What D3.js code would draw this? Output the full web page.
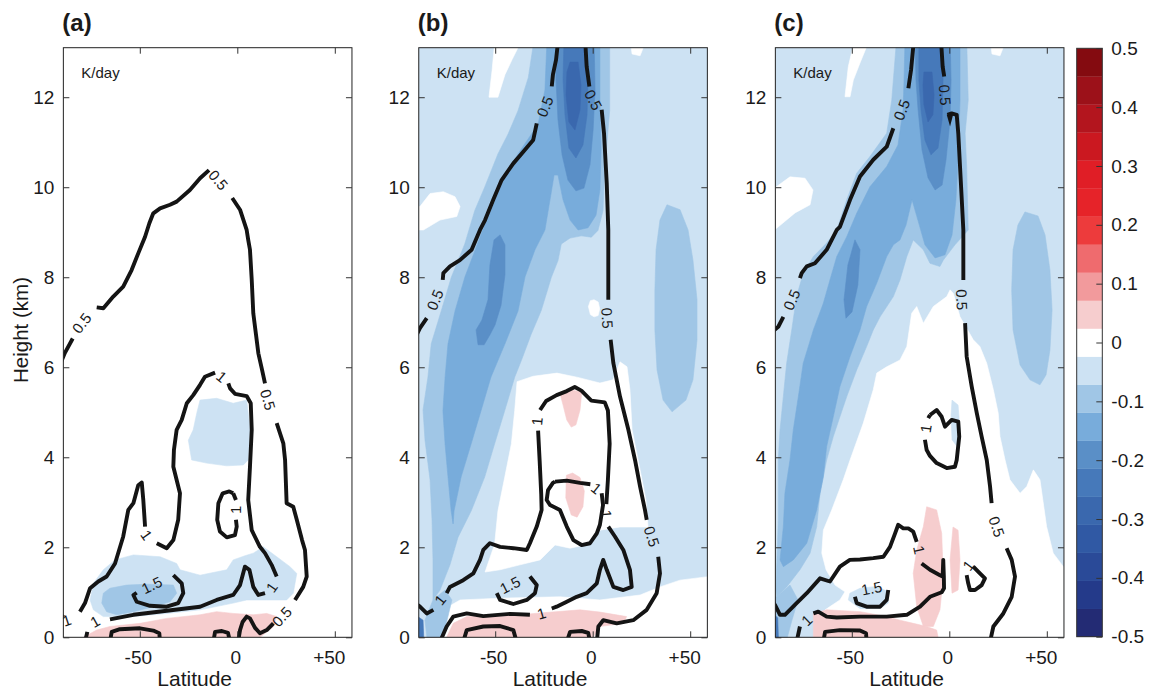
<!DOCTYPE html>
<html>
<head>
<meta charset="utf-8">
<script src="https://d3js.org/d3.v7.min.js"></script>
<style>
html,body{margin:0;padding:0;background:#fff;}
svg text{font-family:"Liberation Sans",Arial,Helvetica,sans-serif;fill:#1a1a1a;}
</style>
</head>
<body>
<svg id="chart" width="1151" height="691"></svg>
<script>
// ================= axis / legend data =================
const latDomain = [-89.2, 58.8];
const heightDomain = [0, 13.1];
const latTicks = [-50, 0, 50];
const latTickLabels = ["-50", "0", "+50"];
const heightTicks = [0, 2, 4, 6, 8, 10, 12];
const cbTicks = [0.5, 0.4, 0.3, 0.2, 0.1, 0, -0.1, -0.2, -0.3, -0.4, -0.5];
const cbTickLabels = ["0.5", "0.4", "0.3", "0.2", "0.1", "0", "-0.1", "-0.2", "-0.3", "-0.4", "-0.5"];
const panelTitles = ["(a)", "(b)", "(c)"];
const unitLabel = "K/day";
// 21 colour bands from -0.5 (index 0) to +0.5 (index 20)
const bandColors = ["#232b74","#243a8a","#2a4a98","#3059a4","#3a68ae","#4679ba","#5a8fc7","#78acdb","#a0c6e6","#cde2f3",
  "#ffffff","#f6cdce","#f29a9c","#ef6b6e","#ed3b3c","#e62329","#e01e26","#cb1820","#b3151e","#9c1119","#840b10"];

// ================= panel (a) : shaded field [lat, km] =================
const aLowBand = [[-73.8,1.2],[-68.7,1.5],[-62.7,1.72],[-53.3,1.83],[-39.6,1.79],[-31.1,1.64],[-29.4,1.5],[-19.1,1.38],[-5.4,1.5],[-2.1,1.72],[3.9,1.81],[8.2,1.87],[13.3,2.01],[20.2,1.79],[27,1.57],[30.5,1.42],[28.7,0.98],[25.3,0.83],[15.1,0.83],[4.8,0.83],[-2.1,0.76],[-19.1,0.61],[-36.2,0.53],[-53.3,0.46],[-68.7,0.46],[-73.8,0.61],[-75.5,0.83]];
const aPatch = [[-19.1,5.27],[-10.6,5.31],[-2.1,5.2],[4.8,5.27],[6.6,4.61],[5.6,3.94],[3.1,3.83],[-5.4,3.81],[-15.7,3.87],[-23.4,3.94],[-25.1,4.38],[-22.6,4.61],[-20.8,4.98]];
const aDark = [[-68.7,0.98],[-65.3,1.09],[-56.7,1.16],[-46.5,1.18],[-32.8,1.16],[-31.1,0.98],[-34.5,0.79],[-43.1,0.68],[-53.3,0.57],[-61.8,0.5],[-67,0.57],[-69.5,0.76]];
const aPink = [[-79,-0.2],[-79,0],[-72.1,0.16],[-65.3,0.24],[-49.9,0.31],[-36.2,0.42],[-19.1,0.5],[-10.6,0.57],[-2.1,0.53],[8.2,0.5],[15.1,0.53],[20.2,0.46],[18.5,0.24],[15.1,0.12],[11.6,0],[11.6,-0.2]];
// contour lines (third element = inline label)
const aLine05 = [[0.4,-0.1],[1.4,0.16],[2.7,0.34],[4.8,0.46],[6.5,0.42],[9.1,0.21],[11.6,0.09],[15.1,0.16],[18.5,0.31],[22.8,0.46,"0.5"],[29.6,0.83],[33.8,1.12],[35.6,1.35],[34.7,1.94],[33.2,2.16],[30.5,2.61],[28.7,2.9],[25.3,2.98],[24.5,3.94],[23.6,4.31],[20.2,4.76],[15.7,5.28,"0.5"],[14.2,5.64],[12.7,5.94],[10.8,6.31],[9.6,6.72],[8.2,7.2],[7.4,7.94],[6.5,8.61],[5.6,8.83],[4.8,9.05],[1.4,9.5],[-2.6,9.76],[-9.7,10.16,"0.5"],[-14.5,10.38],[-19.1,10.2],[-24.3,9.94],[-31.1,9.68],[-34.5,9.61],[-39.6,9.53],[-43.1,9.42],[-45.1,9.2],[-47.3,8.9],[-50.8,8.53],[-54.2,8.16],[-58.5,7.79],[-63.6,7.57],[-68.7,7.31],[-72.1,7.33],[-79.8,6.98,"0.5"],[-84.4,6.64],[-88.4,6.32],[-90.5,6.1]];
const aLine1 = [[-78.1,-0.1],[-76.9,0.12],[-73,0.35,"1"],[-65.3,0.4],[-53.3,0.5],[-36.2,0.59],[-19.1,0.68],[-10.6,0.83],[-2.1,0.94],[1.4,1.16],[3.9,1.57],[6.2,1.5],[8.2,1.12],[10.8,0.94],[14.2,0.98],[17.6,1.11,"1"],[20.2,1.35],[17.6,1.61],[14.2,1.87],[11.6,2.01],[7.4,2.38],[5.6,3.05],[6.5,3.79],[7.4,4.61],[6.9,5.2],[4.8,5.36],[-1.2,5.41],[-3.7,5.53],[-4.6,5.64],[-8,5.79,"1"],[-11.4,5.88],[-16.6,5.79],[-19.1,5.61],[-22.6,5.38],[-25.9,5.2],[-28.5,4.83],[-31.1,4.61],[-32.5,4.16],[-32.8,3.79],[-29.4,3.2],[-30.3,2.61],[-32.8,2.16],[-36.2,1.98],[-41.3,2.09],[-46.5,2.27,"1"],[-47.3,2.46],[-48.2,3.05],[-49,3.44],[-50.8,3.38],[-53.3,2.98],[-55.9,2.83],[-58.5,2.24],[-62.7,1.64],[-67,1.35],[-71.3,1.24],[-75.5,1.09],[-78.1,0.76],[-80.7,0.57],[-87.5,0.38,"1"],[-89,0.45],[-91,0.5]];
const aLine15 = [[-51.6,0.99],[-53.3,0.94],[-51.6,0.79],[-44.8,0.7],[-36.2,0.68],[-30.3,0.76],[-27.7,0.98],[-28.5,1.2],[-32.8,1.38],[-43.9,1.16,"1.5"],[-51.6,0.99]];
const aLineC = [[-2.1,3.2],[-4.1,3.24],[-7.5,3.2],[-9.7,2.98],[-10.3,2.61],[-8.9,2.35],[-5.4,2.22],[-1.2,2.27],[-0.3,2.46],[-0.7,2.61],[-0.7,2.83,"1"],[-0.7,3.05],[-2.1,3.2]];
const aLineDome = [[-65.3,-0.1],[-64.4,0.12],[-60.2,0.18],[-49.9,0.2],[-43.1,0.15],[-40,0.09],[-39.6,-0.1]];
const aLineBlob = [[-12.3,-0.1],[-11.4,0.12],[-7.9,0.14],[-4.8,0.1],[-3.7,-0.1]];

// ================= panel (b) =================
const bBase = [[-95,-1],[65,-1],[65,14],[-95,14]];
const bWhiteTL = [[-53.2,12.0],[-51.6,12.6],[-50.1,13.3],[-36,13.3],[-41.4,12.83],[-45,12.5],[-48.6,12.0]];
const bWhiteL = [[-91,9.6],[-88.6,9.57],[-83.4,9.86],[-76.6,9.9],[-70.6,9.79],[-68,9.57],[-69.7,9.35],[-78.3,9.27],[-86.8,9.05],[-91,9.05]];
const bWhiteTR = [[19.1,13.3],[27.7,13.3],[24.3,12.92],[20.2,12.96]];
const bWhiteDot = [[-2.2,7.35],[-1.2,7.48],[0.7,7.5],[2.8,7.45],[3.6,7.3],[2.8,7.15],[0.7,7.12],[-1.2,7.17]];
const bWhiteDome = [[-38.8,5.68],[-30.6,5.8],[-18.3,5.87],[-8.1,5.78],[3.7,5.65],[10.4,5.72],[14,6.12],[17.6,6.01],[19.1,5.5],[20.2,4.61],[24.3,3.72],[27.3,3.05],[28.4,2.45],[14,2.45],[3.7,2.38],[-3.9,2.05],[-11.6,1.98],[-19.3,2.05],[-27,1.72],[-37.3,1.61],[-47.5,1.5],[-55.2,1.45],[-50.3,2.07],[-48.6,2.81],[-45.1,3.56],[-41.7,4.3],[-40,5.04]];
const bWhiteBottom = [[-76.8,0.61],[-68,0.83],[-47.5,0.87],[-16.8,0.9],[3.7,0.83],[24.3,0.94],[34.5,1.12],[44.8,1.27],[65,1.38],[65,-1],[-80,-1],[-80,0.4]];
const bBand2 = [[-30,13.3],[8.7,13.3],[8.7,11.7],[6.2,10.44],[5.3,9.48],[2.7,9.04],[-0.7,8.89],[-5.8,8.92],[-11.6,8.87],[-16.1,8.74],[-17.8,8.37],[-21.2,8],[-26.4,7.26],[-31.5,6.74],[-36.6,6.15],[-40,5.78],[-45.1,5.04],[-50.3,4.3],[-55.4,3.56],[-62.3,2.81],[-69.1,2.22],[-73.2,1.61],[-78.3,1.05],[-81.9,0.83],[-81.9,1.72],[-82.4,2.61],[-83.4,3.5],[-86,4.38],[-87,5.05],[-84.5,5.78],[-82.8,6.52],[-77.6,7.26],[-72.5,8],[-65.6,8.74],[-60.5,9.48],[-55.4,10],[-48.6,10.74],[-43.4,11.18],[-38.3,11.7],[-33,12.44]];
const bBand2R = [[38.1,9.61],[44.8,9.5],[48.9,9.05],[51.4,8.38],[53.5,7.5],[53.5,6.61],[51.4,5.72],[47.8,5.27],[40.7,5.01],[36.1,5.27],[33,5.94],[31.9,6.83],[31.9,7.72],[32.5,8.61],[34.5,9.27]];
const bBand2LL = [[-81.9,0.83],[-75.7,1.05],[-72.2,0.83],[-74.7,0.38],[-78.3,-0.2],[-84.5,-0.2],[-86,0.38]];
const bBand3 = [[-23.4,13.3],[3.7,13.3],[3.7,11.94],[4.3,10.83],[3.7,9.94],[1.7,9.38],[-2.4,9.1],[-7.5,9.05],[-11.6,9.27],[-15.2,9.72],[-17.8,10.27],[-19.8,10.27],[-21.4,9.85],[-24.5,9.05],[-29.6,8.61],[-34.7,8.01],[-38.3,7.25],[-45,6.52],[-52.2,5.78],[-57.3,5.03],[-62.4,4.29],[-67.5,3.56],[-71.1,2.81],[-71.6,2.52],[-72.6,2.81],[-74.2,3.56],[-75.7,4.29],[-76.8,5.03],[-75.7,5.78],[-74.2,6.52],[-70.6,7.25],[-65.5,8.01],[-60.4,8.59],[-55.2,9.19],[-50.1,9.7],[-45,10.23],[-38.3,10.74],[-28,11.4],[-24.5,12.16]];
const bBand4Jet = [[-18.8,13.3],[0.7,13.3],[1.2,12.16],[0.2,11.27],[-1.4,10.5],[-4.5,9.98],[-8.6,9.92],[-12.7,10.16],[-15.7,10.72],[-17.8,11.5],[-18.8,12.39]];
const bBand4Streak = [[-47.5,8.94],[-45,8.72],[-45,8.05],[-47,7.38],[-50.1,6.94],[-52.7,6.72],[-55.7,6.5],[-58.8,6.5],[-59.8,6.83],[-56.8,7.05],[-53.7,7.5],[-52.7,8.27],[-50.6,8.83]];
const bBand5Jet = [[-14.7,13.3],[-3.4,13.3],[-2.4,12.39],[-2.9,11.61],[-5,10.94],[-8.6,10.65],[-12.2,10.87],[-14.2,11.61],[-15.2,12.39]];
const bBand6Jet = [[-11.6,12.78],[-7.5,12.78],[-6,12.27],[-6.5,11.72],[-9.1,11.27],[-12.2,11.45],[-13.7,12.05],[-13.2,12.56]];
const bDarkCorner = [[-91,0.5],[-87,0.38],[-86.5,-0.2],[-91,-0.2]];
const bPinkBottom = [[-74.9,-0.2],[-74.9,0],[-71.5,0.31],[-64.6,0.46],[-47.5,0.46],[-27,0.54],[-6.5,0.61],[3.7,0.56],[17.4,0.46],[15.7,0.31],[3.7,0.24],[0.3,0],[0.3,-0.2]];
const bPinkUpper = [[-16.8,5.42],[-11.6,5.5],[-5.6,5.45],[-6.5,5.05],[-8.6,4.72],[-11,4.67],[-13.3,4.83],[-15.2,5.16]];
const bPinkLower = [[-13.5,3.6],[-10.3,3.65],[-6.5,3.55],[-4.3,3.25],[-5,2.9],[-8,2.67],[-11,2.72],[-13.8,3.1]];
const bLine05L = [[-17.6,13.3],[-18.8,12.83],[-20.4,12.5],[-21,12.24],[-24.5,11.79,"0.5"],[-28.7,11.42],[-30.5,11.05],[-35.6,10.79],[-40.7,10.53],[-46.7,10.16],[-51,9.72],[-55.2,9.27],[-57.8,9.05],[-62.1,8.61],[-68.1,8.38],[-73.2,8.24],[-76.6,8.09],[-76.9,7.94],[-80.9,7.5,"0.5"],[-85.1,7.09],[-88.6,6.87],[-90.5,6.7]];
const bLine05R = [[-3.9,13.3],[-3.1,12.68],[-1.7,12.24],[0.3,11.94,"0.5"],[4.6,11.72],[5.8,11.2],[7.2,10.09],[8,9.05],[8,7.5],[7.5,7.09,"0.5"],[9.2,6.61],[10.6,6.09],[14,5.35],[18.3,4.61],[21.7,3.94],[24.3,3.35],[26.8,2.83],[27.7,2.61],[30.3,2.24,"0.5"],[33.6,1.79],[34.5,1.42],[32.8,0.98],[27.7,0.61],[20.8,0.38],[12.3,0.31],[5.4,0.38],[2.9,0.24],[2.1,-0.1]];
const bLine1 = [[-90.5,0.74],[-88.6,0.68],[-85.1,0.53],[-81.7,0.61],[-78.3,0.83,"1"],[-74.9,0.98],[-73.2,1.12],[-66.4,1.27],[-61.2,1.42],[-57.8,1.72],[-56.1,1.94],[-52.7,2.09],[-47.5,2.01],[-40.7,1.98],[-33.8,1.94],[-32.2,2.09],[-28.7,2.46],[-26.2,2.83],[-26.4,3.18],[-27.2,3.92],[-28,4.59],[-28.5,4.8,"1"],[-27,5.05],[-23.9,5.25],[-18.5,5.38],[-13.3,5.47],[-9.2,5.56],[-5.8,5.48],[-0.7,5.26],[6.2,5.22],[7.8,5.04],[8.7,4.3],[7.8,3.5],[7,2.96],[7,2.74,"1"],[8,2.46],[11.4,2.24],[15.7,1.94],[19.1,1.5],[20,1.12],[15.7,1.05],[10.6,1.12],[7.2,1.5],[5.4,1.72],[3.7,1.5],[2.1,1.2],[-3.1,0.98],[-8.2,0.9],[-13.3,0.79],[-18.5,0.68],[-21,0.64],[-26.2,0.53,"1"],[-32.2,0.5],[-42.4,0.52],[-56.1,0.47],[-64.6,0.53],[-71.5,0.46],[-74.9,0.24],[-78.3,-0.1]];
const bLineInner = [[-19.3,3.46],[-13.3,3.48],[-6.5,3.43],[-1.2,3.4],[1.9,3.31,"1"],[4.6,3.2],[5.3,2.94],[3.7,2.5],[2.1,2.31],[-1.4,2.09],[-5.7,2.05],[-9.9,2.16],[-13.3,2.46],[-16.8,2.83],[-21.9,2.94],[-23.6,3.05],[-22.9,3.27],[-20.4,3.43],[-19.3,3.46]];
const bLine15 = [[-49.2,0.98],[-47.5,0.83],[-40.7,0.74],[-33.8,0.83],[-29.6,0.98],[-28.7,1.16],[-32.2,1.35],[-42.4,1.16,"1.5"],[-49.2,0.98]];
const bLineDome = [[-66.4,-0.1],[-64.6,0.16],[-56.1,0.24],[-47.5,0.25],[-40.7,0.16],[-39,-0.1]];
const bLineBlob = [[-13.3,-0.1],[-11.6,0.12],[-5.6,0.14],[-2.3,0.1],[-1.4,-0.1]];

// ================= panel (c) =================
const cBase = [[-95,-1],[65,-1],[65,14],[-95,14]];
const cWhiteTL = [[-53.5,12.01],[-51.8,12.68],[-48.4,13.3],[-40.7,13.3],[-45.8,12.76],[-49.2,12.38],[-50.9,12.01]];
const cWhiteL = [[-91,9.94],[-81.7,10.23],[-74,10.2],[-69.9,9.94],[-71.4,9.61],[-79.1,9.43],[-91,9.0]];
const cWhiteTR = [[20.9,13.3],[29.4,13.3],[26,12.92],[21.9,12.96]];
const cWhiteBig = [[0.4,7.72],[2.1,7.64],[5.5,7.12],[12.3,6.61],[15.7,6.46],[19.2,6.09],[22.6,5.5],[25.1,4.98],[26,4.46],[28.6,3.94],[31.1,3.5],[36.3,3.2],[39.7,3.35],[43.1,3.72],[46.5,3.5],[49.9,2.46],[53.3,1.87],[58.5,1.57],[65,1.57],[65,-1],[-70.4,-1],[-68.9,0.38],[-63.7,0.61],[-56.1,0.83],[-53.5,1.01],[-58.6,1.16],[-63.2,1.5],[-65.4,1.87],[-64.6,2.38],[-60.3,2.83],[-54.4,3.5],[-50.9,3.94],[-44.1,4.76],[-39,5.5],[-37.2,5.87],[-32.1,6.01],[-25.3,6.16],[-21.8,6.46],[-19.3,7.2],[-16.7,7.35],[-13.3,6.98],[-8.2,7.35],[-1.3,7.57]];
const cBand2 = [[-27,13.3],[8.9,13.3],[9.7,11.94],[8.1,11.2],[8.9,10.46],[9.7,9.05],[2.9,8.72],[-3.1,8.38],[-4.8,8.24],[-9.9,8.31],[-13.3,8.61],[-18.5,8.83],[-21.8,8.46],[-25.3,7.94],[-28.7,7.57],[-35.5,7.12],[-39,6.83],[-42.4,6.46],[-47.5,5.94],[-52.6,5.35],[-56.1,4.9],[-59.5,4.46],[-62.9,3.94],[-66.3,3.2],[-68,2.46],[-71.4,1.87],[-76.6,1.5],[-83.4,1.12],[-88.5,0.9],[-89,1.05],[-88.4,1.72],[-87.7,2.61],[-87.7,3.94],[-86.8,4.61],[-85.1,5.35],[-83.4,6.09],[-80.8,6.83],[-78.3,7.57],[-74.9,8.09],[-69.7,8.46],[-62.9,8.76],[-57.7,9.05],[-52.6,9.72],[-47.5,10.31],[-40.7,10.68],[-32.1,11.2],[-29.5,11.94]];
const cBand2R = [[38.8,9.45],[45.5,9.36],[49.1,8.94],[51.6,8.16],[52.7,7.27],[51.6,6.38],[49.6,5.83],[46.5,5.61],[41.4,5.72],[36.3,6.05],[32.7,6.83],[32,7.72],[32.7,8.61],[35.2,9.16]];
const cBand2LL = [[-88.5,0.9],[-81.7,1.16],[-77.6,0.83],[-80.7,0.38],[-84.3,-0.2],[-91,-0.2],[-91,0.9]];
const cBand3 = [[-22.7,13.3],[5.5,13.3],[5.5,11.94],[4.5,10.61],[3.4,9.72],[1.4,8.94],[-2.2,8.5],[-7.3,8.43],[-12.5,8.72],[-16.1,9.27],[-19.1,9.72],[-22.2,9.16],[-25.3,8.83],[-28.7,8.72],[-32.1,8.46],[-37.2,7.87],[-42.4,7.35],[-45.8,6.83],[-50.9,6.24],[-56.1,5.57],[-59.5,4.9],[-62.9,4.24],[-64.6,3.57],[-68,2.83],[-73.1,2.09],[-80,1.72],[-85.1,1.57],[-86.8,1.72],[-85.1,2.46],[-84.3,3.2],[-81.7,3.94],[-80,4.61],[-77.4,5.35],[-74.9,6.09],[-69.7,6.83],[-64.6,7.42],[-61.2,7.94],[-57.7,8.46],[-52.6,8.9],[-47.5,9.42],[-40.7,10.01],[-32.1,10.46],[-26.3,10.94],[-23.7,11.72],[-23.2,12.39]];
const cBand4Jet = [[-17.6,13.3],[0.4,13.3],[0.9,12.39],[0.4,11.5],[-1.7,10.61],[-3.7,10.05],[-7.3,9.94],[-10.9,10.21],[-14,10.83],[-16,11.72],[-17.1,12.39]];
const cBand4Streak = [[-48.4,8.83],[-45.8,8.61],[-46.9,7.83],[-49.9,7.23],[-53,7.09],[-54,7.5],[-52,8.27]];
const cBand5Jet = [[-15.6,13.3],[-3.7,13.3],[-3.2,12.39],[-3.7,11.5],[-5.8,10.87],[-9.4,10.72],[-12.5,11.05],[-14.5,11.72],[-15.6,12.39]];
const cBand6Jet = [[-13,12.56],[-8.9,12.56],[-7.8,12.05],[-8.4,11.61],[-10.9,11.45],[-13,11.83],[-13.5,12.27]];
const cDarkCorner = [[-91,0.56],[-88,0.43],[-87.5,-0.2],[-91,-0.2]];
const cBlue15 = [[-51,0.98],[-45.8,1.09],[-37.2,1.13],[-31.3,1.01],[-31.3,0.76],[-35.5,0.64],[-45.8,0.64],[-51.8,0.83]];
const cBlueStrip = [[1.4,5.27],[4.5,5.16],[5.5,4.6],[4,4.24],[1.4,4.39],[0.9,4.94]];
const cPinkBottom = [[-69.7,-0.2],[-69.7,0.53],[-62.9,0.61],[-45.8,0.57],[-32.1,0.46],[-25.3,0.38],[-18.5,0.31],[-11.6,0.24],[-6.5,0.16],[-4.8,-0.2]];
const cPinkStreak1 = [[-11.6,2.9],[-6.5,2.83],[-3.9,2.31],[-3.1,1.35],[-4.8,0.61],[-8.2,0.24],[-13.3,0.24],[-16.7,0.68],[-18.5,1.42],[-16.7,1.94],[-13.3,2.46]];
const cPinkStreak2 = [[1.9,2.45],[4.5,2.38],[5.5,1.72],[4.5,1.05],[1.4,0.98],[0.4,1.72]];
const cLine05L = [[-18.1,13.3],[-19.6,12.61],[-21,12.2],[-24.4,11.72,"0.5"],[-28.7,11.31],[-32.1,10.9],[-39,10.61],[-45.8,10.24],[-50.9,9.72],[-56.1,9.12],[-57.7,9.05],[-62.9,8.61],[-68.9,8.31],[-73.1,8.24],[-75.7,8.09],[-76.6,7.98],[-80.8,7.5,"0.5"],[-85.1,7.12],[-87.7,6.9],[-90.5,6.8]];
const cLine05R = [[-4.3,13.3],[-3.4,12.68],[-2.6,12.46],[-2.2,12.05,"0.5"],[-1,11.61],[1.2,11.64],[3.8,11.61],[4.6,11.2],[5.5,10.46],[6.4,9.72],[7.2,9.05],[7.2,7.94],[6.4,7.5,"0.5"],[8.1,6.98],[8.9,6.24],[11.5,5.57],[14.1,4.98],[16.6,4.46],[19.2,3.94],[20.9,3.35],[21.7,2.98],[24.3,2.46,"0.5"],[29.4,1.98],[32,1.72],[33.7,1.35],[32,0.9],[27.7,0.53],[22.6,0.24],[20.9,-0.1]];
const cNotch = [[-1.3,11.61],[2.1,11.64],[0.4,11.35]];
const cLineSmall1 = [[-9.9,4.94],[-6.5,5.05],[-3.9,4.9],[-2.2,4.68],[1.2,4.83],[4.6,4.79],[5.1,4.46],[3.8,3.94],[2.9,3.79],[-1.3,3.76],[-6.5,3.87],[-9.9,4.03],[-11.6,4.16],[-12.5,4.39],[-12.1,4.64,"1"],[-10.8,4.87],[-9.9,4.94]];
const cLine1 = [[-90.5,0.8],[-89.4,0.72],[-86.8,0.5],[-84.3,0.5],[-78.3,0.76],[-73.1,0.98],[-66.3,1.31],[-61.2,1.24],[-56.1,1.57],[-51,1.72],[-45.8,1.73],[-39,1.76],[-33.8,1.79],[-30.4,2.01],[-27.8,2.31],[-26.2,2.5],[-23.6,2.42],[-21,2.42],[-18.5,2.35],[-16.7,2.12],[-15.4,1.94,"1"],[-14.2,1.64],[-9.9,1.5],[-4.8,1.38],[-3.4,1.35],[-3.1,1.72],[-2.8,1.35],[-2.7,1.09],[-3.9,1.0],[-9.9,0.9],[-15,0.68],[-21.8,0.5],[-32.1,0.46],[-45.8,0.46],[-57.7,0.44],[-62.9,0.46],[-67.2,0.57],[-69.7,0.53],[-73.1,0.38,"1"],[-76.6,0.24],[-78.3,-0.1]];
const cLineHook = [[12.3,1.57],[15.7,1.42],[18.3,1.31],[16.6,1.16],[13.2,1.05],[10.6,1.05],[9.7,1.2],[8.9,1.38],[9.7,1.6,"1"],[12.3,1.57]];
const cLine15 = [[-48.4,0.9],[-47.5,0.76],[-42.4,0.68],[-35.5,0.68],[-32.1,0.83],[-31.3,1.05],[-39.8,1.09,"1.5"],[-48.4,0.9]];
const cLineDome = [[-64.6,-0.1],[-63.7,0.12],[-56.1,0.16],[-45.8,0.15],[-42.7,0.09],[-42.4,-0.1]];

// ================= assemble panels (fill level in K/day, drawn in order) =================
const panels = [
  { fills: [[-0.05,aLowBand],[-0.05,aPatch],[-0.10,aDark],[0.05,aPink]],
    lines: [aLine05,aLine1,aLine15,aLineC,aLineDome,aLineBlob], solids: [] },
  { fills: [[-0.05,bBase],[0,bWhiteTL],[0,bWhiteL],[0,bWhiteTR],[0,bWhiteDot],[0,bWhiteDome],[0,bWhiteBottom],
            [-0.10,bBand2],[-0.10,bBand2R],[-0.10,bBand2LL],[-0.15,bBand3],[-0.20,bBand4Jet],[-0.20,bBand4Streak],
            [-0.25,bBand5Jet],[-0.30,bBand6Jet],[-0.25,bDarkCorner],[0.05,bPinkBottom],[0.05,bPinkUpper],[0.05,bPinkLower]],
    lines: [bLine05L,bLine05R,bLine1,bLineInner,bLine15,bLineDome,bLineBlob], solids: [] },
  { fills: [[-0.05,cBase],[0,cWhiteTL],[0,cWhiteL],[0,cWhiteTR],[0,cWhiteBig],
            [-0.10,cBand2],[-0.10,cBand2R],[-0.10,cBand2LL],[-0.15,cBand3],[-0.20,cBand4Jet],[-0.20,cBand4Streak],
            [-0.25,cBand5Jet],[-0.30,cBand6Jet],[-0.25,cDarkCorner],[-0.05,cBlue15],[-0.05,cBlueStrip],
            [0.05,cPinkBottom],[0.05,cPinkStreak1],[0.05,cPinkStreak2]],
    lines: [cLine05L,cLine05R,cLineSmall1,cLine1,cLineHook,cLine15,cLineDome], solids: [cNotch] }
];

// ================= drawing =================
const layout = { top: 47.7, bottom: 637.3, width: 288.6, lefts: [63.36, 418.76, 775.36] };
const color = d3.scaleQuantize().domain([-0.5, 0.5]).range(bandColors);
const svg = d3.select("#chart");
svg.append("rect").attr("width", 1151).attr("height", 691).attr("fill", "#fff");
const defs = svg.append("defs");

panels.forEach((p, i) => {
  const L = layout.lefts[i], R = L + layout.width;
  const x = d3.scaleLinear().domain(latDomain).range([L, R]);
  const y = d3.scaleLinear().domain(heightDomain).range([layout.bottom, layout.top]);
  defs.append("clipPath").attr("id", "clip" + i).append("rect")
    .attr("x", L).attr("y", layout.top).attr("width", R - L).attr("height", layout.bottom - layout.top);
  const g = svg.append("g");
  const plot = g.append("g").attr("clip-path", `url(#clip${i})`);
  const line = d3.line().x(d => x(d[0])).y(d => y(d[1]));

  p.fills.forEach(([lv, pts]) => {
    plot.append("path").attr("d", line(pts) + "Z")
      .attr("fill", color(lv)).attr("stroke", color(lv)).attr("stroke-width", 0.6).attr("stroke-linejoin", "round");
  });
  p.solids.forEach(pts => {
    plot.append("path").attr("d", line(pts) + "Z").attr("fill", "#141414");
  });

  const labelG = g.append("g");
  p.lines.forEach(pts => {
    let seg = [];
    const flush = () => {
      if (seg.length > 1) plot.append("path").attr("d", line(seg)).attr("fill", "none")
        .attr("stroke", "#141414").attr("stroke-width", 3.9).attr("stroke-linejoin", "round");
      seg = [];
    };
    pts.forEach((q, k) => {
      if (q.length === 3) {
        flush();
        const a = pts[k - 1], b = pts[k + 1] || pts[k - 1];
        let ang = Math.atan2(y(b[1]) - y(a[1]), x(b[0]) - x(a[0])) * 180 / Math.PI;
        if (ang > 90) ang -= 180;
        if (ang < -90) ang += 180;
        labelG.append("text")
          .attr("transform", `translate(${x(q[0])},${y(q[1])}) rotate(${ang})`)
          .attr("text-anchor", "middle").attr("dy", "0.36em").attr("font-size", 15).text(q[2]);
      } else seg.push(q);
    });
    flush();
  });

  // frame
  g.append("rect").attr("x", L).attr("y", layout.top).attr("width", R - L).attr("height", layout.bottom - layout.top)
    .attr("fill", "none").attr("stroke", "#222").attr("stroke-width", 1);

  // axes (inward ticks)
  const bottomAx = g.append("g").attr("transform", `translate(0,${layout.bottom})`)
    .call(d3.axisBottom(x).tickValues(latTicks).tickFormat((d, j) => latTickLabels[j]).tickSize(-6).tickPadding(13));
  const topAx = g.append("g").attr("transform", `translate(0,${layout.top})`)
    .call(d3.axisTop(x).tickValues(latTicks).tickFormat("").tickSize(-6));
  const leftAx = g.append("g").attr("transform", `translate(${L},0)`)
    .call(d3.axisLeft(y).tickValues(heightTicks).tickSize(-6).tickPadding(9));
  const rightAx = g.append("g").attr("transform", `translate(${R},0)`)
    .call(d3.axisRight(y).tickValues(heightTicks).tickFormat("").tickSize(-6));
  [bottomAx, topAx, leftAx, rightAx].forEach(ax => {
    ax.select(".domain").remove();
    ax.selectAll(".tick line").attr("stroke", "#333");
    ax.selectAll("text").attr("font-size", 19).attr("fill", "#1a1a1a")
      .style("font-family", '"Liberation Sans",Arial,Helvetica,sans-serif');
  });
  bottomAx.selectAll(".tick text").attr("dx", (d, j) => latTickLabels[j].startsWith("+") ? -6 : -2);

  g.append("text").attr("x", L + layout.width / 2 - 13).attr("y", 686).attr("text-anchor", "middle")
    .attr("font-size", 21).text("Latitude");
  g.append("text").attr("x", L - 1).attr("y", 31).attr("font-size", 24).attr("font-weight", "bold").text(panelTitles[i]);
  g.append("text").attr("x", L + 18).attr("y", 78).attr("font-size", 15).text(unitLabel);
});

// y label
svg.append("text").attr("transform", "translate(28,330) rotate(-90)").attr("text-anchor", "middle")
  .attr("font-size", 20.5).text("Height (km)");

// colour bar
const cbX = 1076.7, cbW = 25.6;
const cy = d3.scaleLinear().domain([-0.5, 0.5]).range([636.7, 48.3]);
const cbG = svg.append("g");
bandColors.forEach((c, k) => {
  const lo = -0.5 + k / bandColors.length, hi = -0.5 + (k + 1) / bandColors.length;
  cbG.append("rect").attr("x", cbX).attr("y", cy(hi)).attr("width", cbW).attr("height", cy(lo) - cy(hi) + 0.3).attr("fill", c);
});
cbG.append("rect").attr("x", cbX).attr("y", cy(0.5)).attr("width", cbW).attr("height", cy(-0.5) - cy(0.5))
  .attr("fill", "none").attr("stroke", "#333").attr("stroke-width", 1);
const cbAx = cbG.append("g").attr("transform", `translate(${cbX + cbW},0)`)
  .call(d3.axisRight(cy).tickValues(cbTicks).tickFormat((d, j) => cbTickLabels[j]).tickSize(-6).tickPadding(9));
cbAx.select(".domain").remove();
cbAx.selectAll(".tick line").attr("stroke", "#333");
cbAx.selectAll("text").attr("font-size", 19).attr("fill", "#1a1a1a")
  .style("font-family", '"Liberation Sans",Arial,Helvetica,sans-serif');
</script>
</body>
</html>
